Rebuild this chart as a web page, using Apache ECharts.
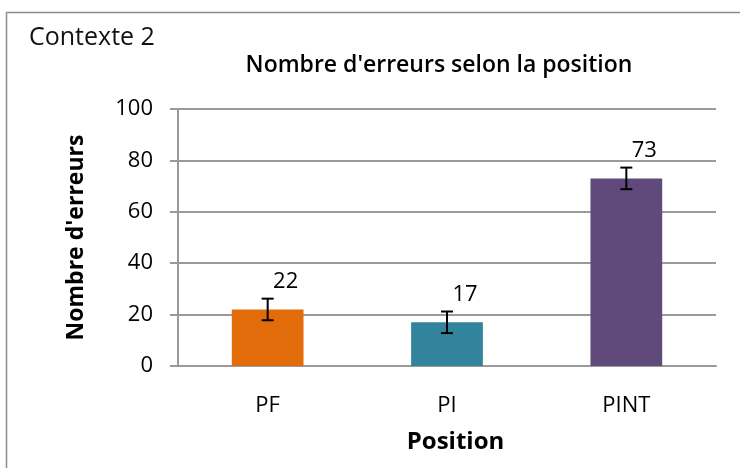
<!DOCTYPE html>
<html>
<head>
<meta charset="utf-8">
<script src="https://cdn.jsdelivr.net/npm/echarts@6/dist/echarts.min.js"></script>
<style>
  html, body { margin: 0; padding: 0; background: #fff; }
  #chart { width: 740px; height: 468px; }
</style>
</head>
<body>
<div id="chart"></div>
<script>
// données
const categories = ['PF', 'PI', 'PINT']
const values = [22, 17, 73]
const errors = [4.2, 4.2, 4.2]
const colors = ['#E36C0A', '#31849B', '#604A7B']
const yTicks = [0, 20, 40, 60, 80, 100]

const font = 'Open Sans'

const chart = echarts.init(document.getElementById('chart'))

chart.setOption({
  animation: false,
  textStyle: { fontFamily: font },
  graphic: [{
    // cadre extérieur
    type: 'rect',
    shape: { x: 6.5, y: 12.5, width: 800, height: 500 },
    style: { fill: 'none', stroke: '#8c8c8c', lineWidth: 1.5 }
  }, {
    type: 'text',
    left: 29, top: 25,
    style: { text: 'Contexte 2', font: '25px "Open Sans"', fill: '#111' }
  }],
  title: {
    text: "Nombre d'erreurs selon la position",
    left: 434, top: 49,
    textAlign: 'center',
    textStyle: { fontFamily: font, fontSize: 23, fontWeight: 600, color: '#000' }
  },
  grid: { left: 178, right: 24, top: 109, bottom: 102 },
  xAxis: {
    type: 'category',
    data: categories,
    name: 'Position',
    nameLocation: 'middle',
    nameGap: 64,
    nameTextStyle: { fontFamily: font, fontSize: 24, fontWeight: 'bold', color: '#000', padding: [0, 0, 0, 17] },
    axisLine: { lineStyle: { color: '#9a9a9a', width: 2 } },
    axisTick: { show: false },
    axisLabel: { fontSize: 22, color: '#000', margin: 29 }
  },
  yAxis: {
    type: 'value',
    min: yTicks[0],
    max: yTicks[yTicks.length - 1],
    interval: 20,
    name: "Nombre d'erreurs",
    nameLocation: 'middle',
    nameGap: 90,
    nameTextStyle: { fontFamily: font, fontSize: 23, fontWeight: 'bold', color: '#000' },
    axisLine: { show: true, lineStyle: { color: '#9a9a9a', width: 2 } },
    axisTick: { show: true, length: 8, lineStyle: { color: '#9a9a9a', width: 2 } },
    axisLabel: { fontSize: 22, color: '#000', margin: 25 },
    splitLine: { lineStyle: { color: '#9a9a9a', width: 2 } }
  },
  series: [{
    type: 'bar',
    barWidth: '40%',
    data: values.map((v, i) => ({ value: v, itemStyle: { color: colors[i] } })),
    label: {
      show: true,
      position: 'top',
      offset: [18, -12],
      fontSize: 22,
      color: '#000'
    },
    z: 2
  }, {
    // barres d'erreur
    type: 'custom',
    data: values.map((v, i) => [i, v - errors[i], v + errors[i]]),
    renderItem: function (params, api) {
      const lo = api.coord([api.value(0), api.value(1)])
      const hi = api.coord([api.value(0), api.value(2)])
      const w = 6
      const st = { stroke: '#000', lineWidth: 2 }
      return {
        type: 'group',
        children: [
          { type: 'line', shape: { x1: lo[0], y1: lo[1], x2: hi[0], y2: hi[1] }, style: st },
          { type: 'line', shape: { x1: lo[0] - w, y1: lo[1], x2: lo[0] + w, y2: lo[1] }, style: st },
          { type: 'line', shape: { x1: hi[0] - w, y1: hi[1], x2: hi[0] + w, y2: hi[1] }, style: st }
        ]
      }
    },
    z: 3
  }]
})
</script>
</body>
</html>
